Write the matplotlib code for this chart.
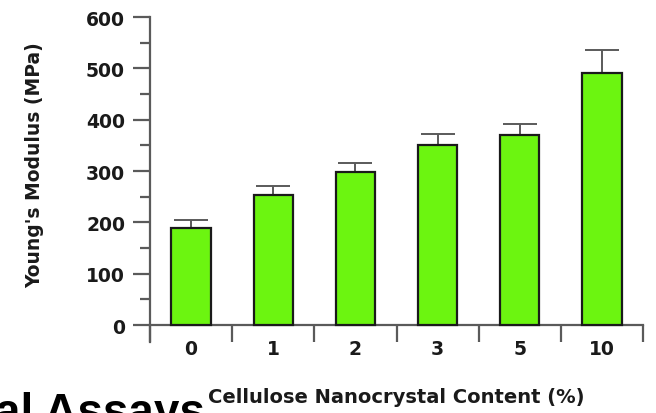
import matplotlib.pyplot as plt
from matplotlib.ticker import MultipleLocator

plt.rcParams['font.family'] = ['DejaVu Sans']

categories = ['0', '1', '2', '3', '5', '10']
modulus = [190, 254, 298, 350, 370, 490]
modulus_err = [14, 17, 17, 23, 22, 46]

axis_grey = '#5a5a5a'
text_col = '#1a1a1a'

fig = plt.figure(figsize=(6.56, 4.14), dpi=100)
ax = fig.add_axes([0.2287, 0.1715, 0.7515, 0.785])

x = list(range(len(categories)))
ax.bar(x, modulus, width=0.48, color='#6cf510', edgecolor=text_col,
       linewidth=1.6, zorder=3)
ax.errorbar(x, modulus, yerr=[[0] * len(modulus_err), modulus_err],
            fmt='none', ecolor=axis_grey, elinewidth=1.4, capsize=12,
            capthick=1.4, zorder=2)

ax.set_xlim(-0.5, len(categories) - 0.5)
ax.set_ylim(-33, 600)

for side in ['top', 'right']:
    ax.spines[side].set_visible(False)
ax.spines['bottom'].set_position(('data', 0))
for side in ['left', 'bottom']:
    ax.spines[side].set_color(axis_grey)
    ax.spines[side].set_linewidth(1.6)
ax.spines['left'].set_bounds(-33, 600)

# y ticks: majors every 100, minors in between
ax.set_yticks(range(0, 601, 100))
ax.yaxis.set_minor_locator(MultipleLocator(50))
ax.tick_params(axis='y', which='major', length=12, width=1.6,
               color=axis_grey, labelsize=13.5, labelcolor=text_col, pad=6)
ax.tick_params(axis='y', which='minor', length=7, width=1.6, color=axis_grey)
for lbl in ax.get_yticklabels():
    lbl.set_fontweight('bold')

# x ticks sit between bars, labels sit under the bars
ax.set_xticks([i - 0.5 for i in range(len(categories) + 1)])
ax.set_xticklabels([])
ax.tick_params(axis='x', which='major', length=12, width=1.6,
               color=axis_grey, direction='out')
for i, c in enumerate(categories):
    ax.text(i, -46, c, ha='center', va='center', fontsize=13.5,
            fontweight='bold', color=text_col)

fig.text(0.053, 0.601, "Young's Modulus (MPa)", rotation=90, ha='center',
         va='center', fontsize=13.5, fontweight='bold', color=text_col)
fig.text(0.604, 0.04, 'Cellulose Nanocrystal Content (%)', ha='center',
         va='center', fontsize=14, fontweight='bold', color=text_col)

fig.text(-0.008, -0.03, 'al Assays', ha='left', va='baseline', fontsize=33,
         fontweight='bold', color='black', family='Liberation Sans')

fig.savefig('out.png', dpi=100)
